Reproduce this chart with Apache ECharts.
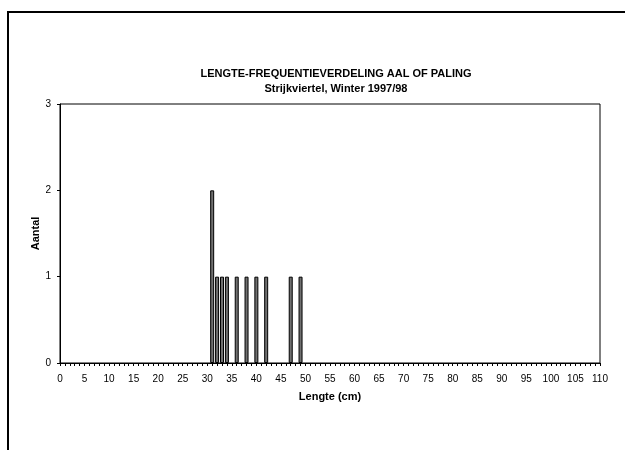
<!DOCTYPE html>
<html>
<head>
<meta charset="utf-8">
<script src="https://cdn.jsdelivr.net/npm/echarts@6/dist/echarts.min.js"></script>
<style>
  html, body { margin: 0; padding: 0; background: #fff; }
  #chart { width: 625px; height: 450px; }
</style>
</head>
<body>
<div id="chart"></div>
<script>
// lengte (cm) en aantal per lengte
var lengths = [31, 32, 33, 34, 36, 38, 40, 42, 47, 49];
var counts = [2, 1, 1, 1, 1, 1, 1, 1, 1, 1];

var titleText = 'LENGTE-FREQUENTIEVERDELING AAL OF PALING';
var subText = 'Strijkviertel, Winter 1997/98';

var font = 'Liberation Sans, Arial, sans-serif';

var chart = echarts.init(document.getElementById('chart'));

var option = {
  animation: false,
  backgroundColor: '#fff',
  title: {
    text: titleText,
    subtext: subText,
    left: 331,
    top: 63,
    textAlign: 'center',
    itemGap: 4,
    textStyle: { fontFamily: font, fontSize: 11, fontWeight: 'bold', color: '#000' },
    subtextStyle: { fontFamily: font, fontSize: 11, fontWeight: 'bold', color: '#000' }
  },
  graphic: [{
    type: 'rect',
    shape: { x: 8, y: 12, width: 640, height: 460 },
    style: { fill: 'none', stroke: '#000', lineWidth: 2 },
    silent: true
  }],
  grid: {
    left: 60,
    right: 25,
    top: 104,
    bottom: 87,
    show: true,
    borderColor: '#000',
    borderWidth: 1,
    backgroundColor: 'transparent'
  },
  xAxis: {
    type: 'value',
    min: 0,
    max: 110,
    interval: 5,
    name: 'Lengte (cm)',
    nameLocation: 'middle',
    nameGap: 28,
    nameTextStyle: { fontFamily: font, fontSize: 11, fontWeight: 'bold', color: '#000' },
    axisLine: { show: true, lineStyle: { color: '#000', width: 1 } },
    axisTick: { show: true, length: 3, lineStyle: { color: '#000' } },
    minorTick: { show: true, splitNumber: 5, length: 3, lineStyle: { color: '#000' } },
    splitLine: { show: false },
    axisLabel: { fontFamily: font, fontSize: 10, color: '#000', margin: 11 }
  },
  yAxis: {
    type: 'value',
    min: 0,
    max: 3,
    interval: 1,
    name: 'Aantal',
    nameLocation: 'middle',
    nameGap: 19,
    nameMoveOverlap: false,
    nameTextStyle: { fontFamily: font, fontSize: 11, fontWeight: 'bold', color: '#000' },
    axisLine: { show: true, lineStyle: { color: '#000', width: 1 } },
    axisTick: { show: true, length: 3, lineStyle: { color: '#000' } },
    splitLine: { show: false },
    axisLabel: { fontFamily: font, fontSize: 10, color: '#000', margin: 9 }
  },
  series: [{
    type: 'bar',
    data: lengths.map(function (l, i) { return [l, counts[i]]; }),
    barWidth: 4,
    itemStyle: { color: '#707070', borderColor: '#000', borderWidth: 1 }
  }]
};

chart.setOption(option);
</script>
</body>
</html>
